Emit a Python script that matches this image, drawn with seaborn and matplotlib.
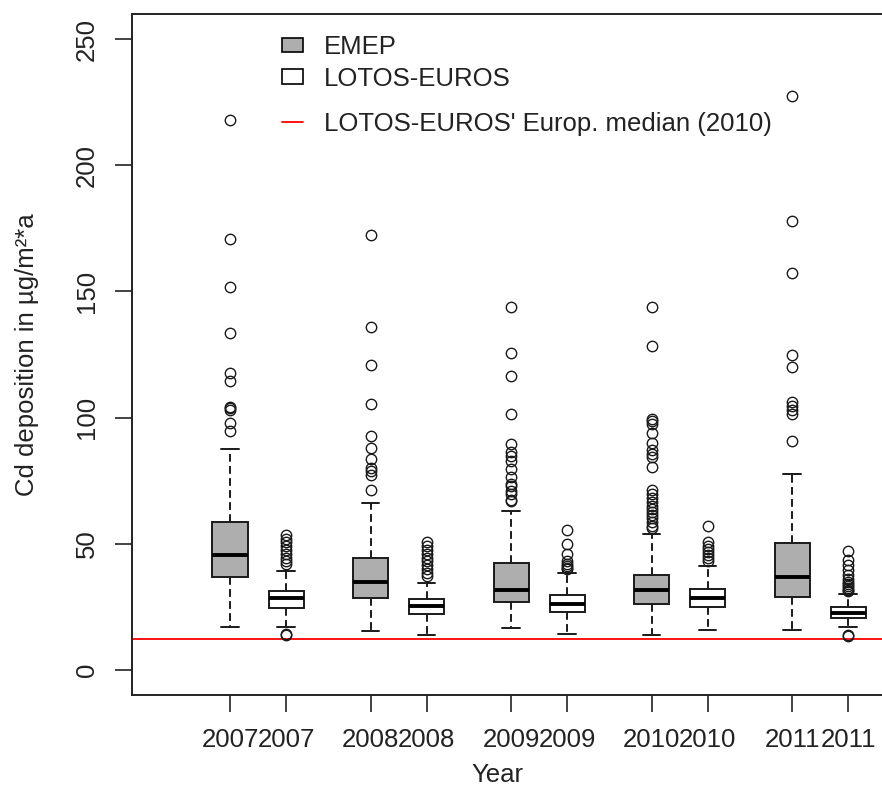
import numpy as np
import pandas as pd
import matplotlib
matplotlib.use("Agg")
import matplotlib.pyplot as plt
from matplotlib.patches import Patch
from matplotlib.lines import Line2D
import seaborn as sns

# ---------------- data ----------------
years = ["2007", "2008", "2009", "2010", "2011"]
models = ["EMEP", "LOTOS-EUROS"]

emep_whislo = [16.8, 15.5, 16.7, 13.6, 15.7]
emep_q1 = [36.6, 28.4, 27.0, 26.2, 28.9]
emep_med = [45.7, 34.9, 31.5, 31.5, 36.6]
emep_q3 = [58.6, 44.4, 42.5, 37.6, 50.3]
emep_whishi = [87.6, 66.2, 62.9, 54.0, 77.6]
emep_out_hi = [
    [217.8, 170.8, 151.6, 133.7, 117.5, 114.4, 104.2, 103.6, 103.0, 97.8, 94.7],
    [172.3, 136.1, 120.8, 105.3, 92.5, 87.9, 83.4, 80.0, 79.0, 77.3, 71.2],
    [144.0, 125.4, 116.3, 101.6, 89.4, 86.5, 84.9, 82.6, 79.6, 76.5, 73.5,
     72.8, 71.0, 69.7, 67.5, 66.8],
    [144.0, 128.5, 99.3, 98.5, 97.5, 94.0, 90.0, 87.1, 85.6, 84.5, 80.3,
     71.2, 69.5, 68.2, 66.7, 65.0, 63.7, 62.5, 61.4, 60.0, 58.4, 57.2, 56.1],
    [227.4, 177.8, 157.3, 124.7, 120.2, 106.1, 104.6, 103.0, 101.5, 90.6],
]
emep_out_lo = [[], [], [], [], []]

lotos_whislo = [16.8, 13.8, 14.1, 15.9, 16.8]
lotos_q1 = [24.5, 22.1, 23.0, 25.0, 20.5]
lotos_med = [28.4, 25.3, 26.2, 28.5, 22.4]
lotos_q3 = [31.1, 28.0, 29.6, 32.1, 24.7]
lotos_whishi = [39.2, 34.6, 38.4, 41.2, 30.0]
lotos_out_hi = [
    [53.5, 52.0, 50.5, 49.0, 47.5, 46.0, 44.5, 43.0, 41.8],
    [50.5, 49.0, 47.5, 46.0, 44.5, 43.0, 41.5, 40.0, 38.5, 37.2],
    [55.3, 50.0, 46.0, 43.2, 42.0, 41.0, 40.3, 39.8],
    [57.1, 50.5, 49.2, 48.0, 46.8, 45.5, 44.2, 43.3],
    [47.0, 43.4, 41.5, 39.5, 37.5, 36.0, 35.0, 34.0, 33.2, 32.5, 31.8, 31.3],
]
lotos_out_lo = [[14.2, 13.6], [], [], [], [13.8, 13.2]]

median_2010 = 12.3  # LOTOS-EUROS' European median (2010)

grey = "#AEAEAE"


def sample_from_summary(lo, q1, med, q3, hi, out_lo, out_hi):
    """Build a value list whose box statistics equal the read summary."""
    a, m = len(out_lo), len(out_hi)
    k1 = 50 + 2 * m + a
    k3 = a + k1 - m
    vals = list(out_lo) + [lo] + [q1] * k1 + [med] + [q3] * k3 + [hi] + list(out_hi)
    return vals


rows = []
for i, yr in enumerate(years):
    for model, off, src in [
        ("EMEP", 0.0, (emep_whislo, emep_q1, emep_med, emep_q3, emep_whishi, emep_out_lo, emep_out_hi)),
        ("LOTOS-EUROS", 0.4, (lotos_whislo, lotos_q1, lotos_med, lotos_q3, lotos_whishi, lotos_out_lo, lotos_out_hi)),
    ]:
        vals = sample_from_summary(*(s[i] for s in src))
        pos = i + 1 + off
        for v in vals:
            rows.append({"pos": pos, "model": model, "year": yr, "value": v})
df = pd.DataFrame(rows)

# ---------------- plotting ----------------
sns.set_style("ticks")
plt.rcParams["font.family"] = ["Liberation Sans", "DejaVu Sans"]
plt.rcParams["font.size"] = 18

fig = plt.figure(figsize=(8.82, 7.93), dpi=100)
ax = fig.add_axes([132 / 882, 98 / 793, 815 / 882, 681 / 793])

sns.boxplot(
    data=df, x="pos", y="value", hue="model", native_scale=True, dodge=False,
    palette={"EMEP": grey, "LOTOS-EUROS": "white"}, saturation=1,
    width=0.623, linecolor="#1a1a1a", linewidth=1.4, fliersize=7.5,
    whiskerprops={"linestyle": (0, (4, 2.2))},
    medianprops={"linewidth": 2.8, "color": "black"},
    flierprops={"marker": "o", "markerfacecolor": "none",
                "markeredgecolor": "#1a1a1a", "markeredgewidth": 1.0},
    legend=False, ax=ax,
)

ax.axhline(median_2010, color="red", linewidth=1.3, zorder=0.5)

ax.set_xlim(0.3025, 6.103)
ax.set_ylim(-10, 260)
positions = sorted(df["pos"].unique())
ax.set_xticks(positions)
ax.set_xticklabels([y for y in years for _ in models])
ax.set_yticks([0, 50, 100, 150, 200, 250])
ax.set_yticklabels(["0", "50", "100", "150", "200", "250"], rotation=90, va="center")
ax.tick_params(direction="out", length=12, width=1.2, pad=12, labelsize=18.5, colors="#222222")
for s in ax.spines.values():
    s.set_linewidth(1.4)
    s.set_color("#222222")

ax.set_xlabel("Year", fontsize=18.5, color="#222222")
ax.set_ylabel("Cd deposition in µg/m²*a", fontsize=18.5, color="#222222")
ax.xaxis.set_label_coords(0.448, -0.10)
ax.yaxis.set_label_coords(-0.114, 0.5)

h1 = [Patch(facecolor=grey, edgecolor="black", linewidth=1.2),
      Patch(facecolor="white", edgecolor="black", linewidth=1.2)]
leg1 = ax.legend(h1, models, loc="upper left", bbox_to_anchor=(0.184, 0.969),
                 frameon=False, borderaxespad=0, borderpad=0,
                 handlelength=0.8, handleheight=0.52, handletextpad=0.84,
                 labelspacing=0.3, fontsize=18.5, labelcolor="#222222")
ax.add_artist(leg1)
h2 = [Line2D([], [], color="red", linewidth=1.3)]
ax.legend(h2, ["LOTOS-EUROS' Europ. median (2010)"], loc="upper left",
          bbox_to_anchor=(0.184, 0.856), frameon=False, borderaxespad=0,
          borderpad=0, handlelength=0.8, handletextpad=0.84, fontsize=18.5,
          labelcolor="#222222")

fig.savefig("out.png", dpi=100)
